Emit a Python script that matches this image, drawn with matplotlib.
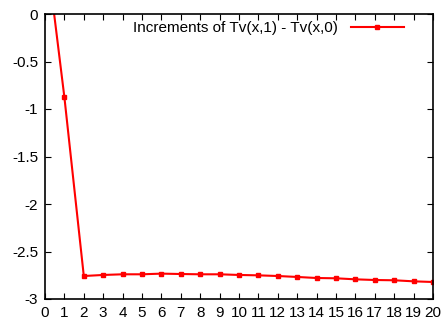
import numpy as np
import matplotlib
matplotlib.use("Agg")
from matplotlib import pyplot as plt

plt.rcParams['font.family'] = ['Liberation Sans', 'DejaVu Sans']

# increments per step
x_vals = list(range(0, 21))
y_vals = [0.78, -0.877, -2.758, -2.747, -2.74, -2.74, -2.733, -2.737, -2.74, -2.74,
          -2.747, -2.751, -2.758, -2.768, -2.779, -2.782, -2.793, -2.80, -2.803,
          -2.814, -2.821]
label = 'Increments of Tv(x,1) - Tv(x,0)'

fig = plt.figure(figsize=(4.44, 3.21), dpi=100)
ax = fig.add_axes([45/444, 1 - 299/321, 388/444, 285/321])

ax.plot(x_vals, y_vals, color='red', lw=1.5, marker='s', ms=3.5, label=label, clip_on=True)

ax.set_xlim(0, 20)
ax.set_ylim(-3, 0)
ax.set_xticks(range(0, 21))
ax.set_yticks([0, -0.5, -1, -1.5, -2, -2.5, -3])
ax.set_yticklabels(['0', '-0.5', '-1', '-1.5', '-2', '-2.5', '-3'])
ax.tick_params(direction='in', top=True, right=True, labelsize=11, length=4, pad=5)
for s in ax.spines.values():
    s.set_linewidth(1.2)

leg = ax.legend(loc='upper right', frameon=False, markerfirst=False, fontsize=11,
                handlelength=3.5, borderaxespad=0.1, handletextpad=0.8,
                bbox_to_anchor=(0.945, 1.002))

fig.savefig('out.png', dpi=100)
